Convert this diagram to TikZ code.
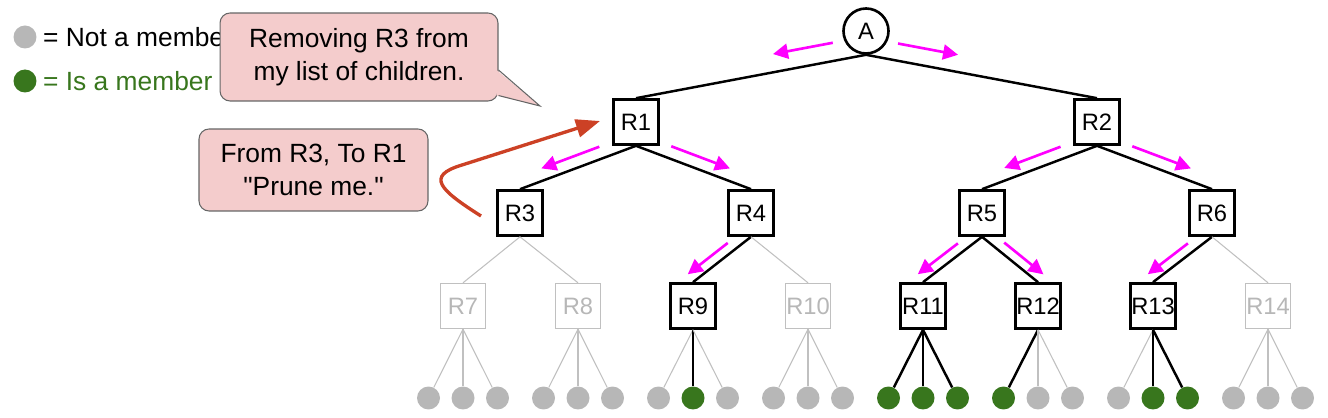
\documentclass[tikz,border=0pt]{standalone}
\usepackage{fontspec}
\setmainfont{Liberation Sans}
\usetikzlibrary{arrows.meta, calc}
\definecolor{memgreen}{RGB}{56, 118, 29}
\definecolor{nongray}{RGB}{183, 183, 183}
\definecolor{linegray}{RGB}{192, 192, 192}
\definecolor{notepink}{RGB}{244, 204, 204}
\definecolor{noteedge}{RGB}{102, 102, 102}
\definecolor{prunered}{RGB}{204, 65, 37}
\definecolor{flowpink}{RGB}{255, 0, 255}

\tikzset{
  rnode/.style={draw, line width=1.5pt, minimum size=0.9cm, inner sep=0pt, font=\fontsize{13.5}{15}\selectfont},
  rgone/.style={draw=linegray, line width=0.8pt, text=nongray, minimum size=0.9cm, inner sep=0pt, font=\fontsize{13.5}{15}\selectfont},
  leafmem/.style={circle, fill=memgreen, minimum size=0.46cm, inner sep=0pt},
  leafnon/.style={circle, fill=nongray, minimum size=0.46cm, inner sep=0pt},
  linkmem/.style={line width=1.4pt},
  linknon/.style={draw=linegray, line width=0.6pt},
  flow/.style={flowpink, line width=1.5pt, -{Triangle[length=0.3cm, width=0.3cm]}},
  prune/.style={prunered, line width=1.9pt, -{Triangle[length=0.48cm, width=0.36cm]}},
  note/.style={draw=noteedge, fill=notepink, rounded corners=0.2cm, line width=0.6pt, align=center, font=\fontsize{15}{18.7}\selectfont},
  keytext/.style={anchor=west, font=\fontsize{15}{18}\selectfont}
}

\begin{document}
\begin{tikzpicture}[x=0.02cm, y=-0.02cm]
  \useasboundingbox (0, 0) rectangle (1328, 418);

  % Legend
  \node[leafnon] (keynon) at (25, 37) {};
  \node[keytext] (keynontext) at (37, 37) {= Not a member};
  \node[leafmem] (keymem) at (25, 81) {};
  \node[keytext, text=memgreen] (keymemtext) at (37, 81) {= Is a member};

  % Callouts
  \node[note, minimum width=5.56cm, minimum height=1.76cm] (prunenote) at (359, 57) {Removing R3 from\\my list of children.};
  \coordinate (tailtip) at (540, 106);
  \fill[notepink] ($(prunenote.south east)+(-2, -6)$) -- (tailtip) -- ($(prunenote.east)+(-2, 13)$) -- cycle;
  \draw[noteedge, line width=0.6pt] ($(prunenote.south east)+(0, -6)$) -- (tailtip) -- ($(prunenote.east)+(0, 13)$);

  \node[note, minimum width=4.58cm, minimum height=1.64cm] (msgnote) at (313.5, 170) {From R3, To R1\\\textquotedbl Prune me.\textquotedbl};

  % Tree
  \node[circle, draw, line width=1.5pt, minimum size=0.9cm, inner sep=0pt, font=\fontsize{13.5}{15}\selectfont] (A) at (866, 31) {A};
  \node[rnode] (r1) at (636, 122) {R1};
  \node[rnode] (r2) at (1097, 122) {R2};
  \node[rnode] (r3) at (520, 213) {R3};
  \node[rnode] (r4) at (751, 213) {R4};
  \node[rnode] (r5) at (982, 213) {R5};
  \node[rnode] (r6) at (1212, 213) {R6};
  \node[rgone] (r7) at (463, 306) {R7};
  \node[rgone] (r8) at (578, 306) {R8};
  \node[rnode] (r9) at (693, 306) {R9};
  \node[rgone] (r10) at (808, 306) {R10};
  \node[rnode] (r11) at (923, 306) {R11};
  \node[rnode] (r12) at (1038, 306) {R12};
  \node[rnode] (r13) at (1153, 306) {R13};
  \node[rgone] (r14) at (1268, 306) {R14};

  \draw[linkmem] (A.south) -- (r1.north);
  \draw[linkmem] (A.south) -- (r2.north);
  \draw[linkmem] (r1.south) -- (r3.north);
  \draw[linkmem] (r1.south) -- (r4.north);
  \draw[linkmem] (r2.south) -- (r5.north);
  \draw[linkmem] (r2.south) -- (r6.north);
  \draw[linknon] (r3.south) -- (r7.north);
  \draw[linknon] (r3.south) -- (r8.north);
  \draw[linkmem] (r4.south) -- (r9.north);
  \draw[linknon] (r4.south) -- (r10.north);
  \draw[linkmem] (r5.south) -- (r11.north);
  \draw[linkmem] (r5.south) -- (r12.north);
  \draw[linkmem] (r6.south) -- (r13.north);
  \draw[linknon] (r6.south) -- (r14.north);

  % Leaves
  \foreach \p/\x/\a/\b/\c in {7/463/non/non/non, 8/578/non/non/non, 9/693/non/mem/non, 10/808/non/non/non,
                              11/923/mem/mem/mem, 12/1038/mem/non/non, 13/1153/non/mem/mem, 14/1268/non/non/non}{
    \node[leaf\a] (r\p-1) at (\x-34.5, 398) {};
    \node[leaf\b] (r\p-2) at (\x, 398) {};
    \node[leaf\c] (r\p-3) at (\x+34.5, 398) {};
    \draw[link\a] (r\p.south) -- (r\p-1);
    \draw[link\b] (r\p.south) -- (r\p-2);
    \draw[link\c] (r\p.south) -- (r\p-3);
  }

  % Messages going down
  \draw[flow] ($(A.south)!0.13!(r1.north)!0.36cm!-90:(r1.north)$) -- ($(A.south)!0.39!(r1.north)!0.36cm!-90:(r1.north)$);
  \draw[flow] ($(A.south)!0.125!(r2.north)!0.34cm!90:(r2.north)$) -- ($(A.south)!0.385!(r2.north)!0.34cm!90:(r2.north)$);
  \draw[flow] ($(r1.south)!0.28!(r3.north)!0.24cm!-90:(r3.north)$) -- ($(r1.south)!0.78!(r3.north)!0.24cm!-90:(r3.north)$);
  \draw[flow] ($(r1.south)!0.27!(r4.north)!0.24cm!90:(r4.north)$) -- ($(r1.south)!0.78!(r4.north)!0.24cm!90:(r4.north)$);
  \draw[flow] ($(r2.south)!0.28!(r5.north)!0.24cm!-90:(r5.north)$) -- ($(r2.south)!0.77!(r5.north)!0.24cm!-90:(r5.north)$);
  \draw[flow] ($(r2.south)!0.27!(r6.north)!0.24cm!90:(r6.north)$) -- ($(r2.south)!0.78!(r6.north)!0.24cm!90:(r6.north)$);
  \draw[flow] ($(r4.south)!0.30!(r9.north)!0.19cm!-90:(r9.north)$) -- ($(r4.south)!0.99!(r9.north)!0.19cm!-90:(r9.north)$);
  \draw[flow] ($(r5.south)!0.31!(r11.north)!0.19cm!-90:(r11.north)$) -- ($(r5.south)!0.99!(r11.north)!0.19cm!-90:(r11.north)$);
  \draw[flow] ($(r5.south)!0.29!(r12.north)!0.19cm!90:(r12.north)$) -- ($(r5.south)!0.99!(r12.north)!0.19cm!90:(r12.north)$);
  \draw[flow] ($(r6.south)!0.31!(r13.north)!0.19cm!-90:(r13.north)$) -- ($(r6.south)!0.99!(r13.north)!0.19cm!-90:(r13.north)$);

  % Prune request going up
  \coordinate (pruneStart) at (481, 216);
  \coordinate (pruneEnd) at (600, 121);
  \draw[prune] (pruneStart) .. controls (440, 190) and (425, 176) .. (462, 165) -- (pruneEnd);
\end{tikzpicture}
\end{document}
